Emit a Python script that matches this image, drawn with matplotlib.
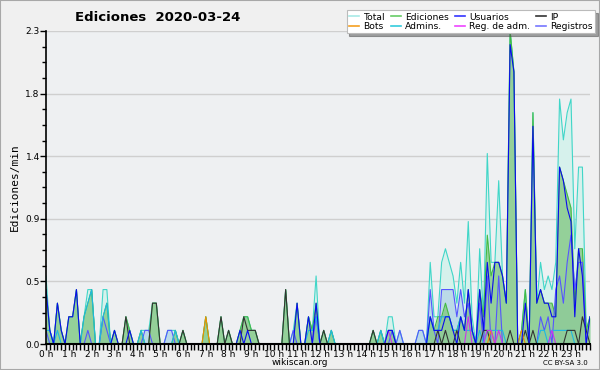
import numpy as np
import matplotlib
matplotlib.use('Agg')
import matplotlib.pyplot as plt
from matplotlib.lines import Line2D
from matplotlib.patches import Rectangle

# edits per 10-minute bin (value / 10 = edits per minute), 144 bins for the day
total = [5,1,0,3,1,0, 2,2,4,0,2,4, 4,0,0,4,4,0, 1,0,0,2,1,0,
         0,1,1,1,3,3, 0,0,1,1,1,0, 1,0,0,0,0,0, 2,0,0,0,2,0,
         1,0,0,1,2,2, 1,1,0,0,0,0, 0,0,0,4,0,1, 3,0,0,2,1,5,
         0,1,0,1,0,0, 0,0,0,0,0,0, 0,0,1,0,1,0, 2,2,0,1,0,0,
         0,0,1,1,0,6, 2,2,6,7,6,5, 3,6,3,9,2,0, 7,2,14,6,6,12,
         5,3,23,20,0,1, 4,0,17,3,6,4, 5,4,6,18,15,17, 18,7,13,13,1,2]
ediciones = [4,1,0,3,1,0, 2,2,4,0,2,3, 4,0,0,2,3,0, 1,0,0,2,1,0,
             0,1,0,0,3,3, 0,0,0,0,1,0, 1,0,0,0,0,0, 2,0,0,0,2,0,
             1,0,0,1,2,2, 1,1,0,0,0,0, 0,0,0,4,0,0, 3,0,0,2,1,3,
             0,1,0,1,0,0, 0,0,0,0,0,0, 0,0,1,0,1,0, 1,1,0,0,0,0,
             0,0,0,0,0,2, 1,2,2,3,2,1, 1,2,1,4,1,0, 4,2,8,5,6,6,
             5,3,23,20,0,1, 4,0,17,3,4,3, 3,3,2,13,12,11, 10,3,7,7,1,2]
usuarios = [4,1,0,3,1,0, 2,2,4,0,0,0, 0,0,0,0,0,0, 1,0,0,0,1,0,
            0,0,0,0,0,0, 0,0,0,0,0,0, 0,0,0,0,0,0, 0,0,0,0,0,0,
            0,0,0,1,0,1, 0,0,0,0,0,0, 0,0,0,0,0,0, 3,0,0,2,0,3,
            0,0,0,0,0,0, 0,0,0,0,0,0, 0,0,0,0,0,0, 1,1,0,0,0,0,
            0,0,0,0,0,2, 1,1,1,2,2,1, 0,2,1,4,1,0, 4,1,6,3,6,6,
            5,3,22,20,0,0, 3,0,16,3,4,3, 3,2,2,13,12,10, 9,2,7,5,0,2]
ip = [0,0,0,0,0,0, 0,0,0,0,0,0, 0,0,0,0,0,0, 0,0,0,2,0,0,
      0,0,0,0,3,3, 0,0,0,0,0,0, 1,0,0,0,0,0, 0,0,0,0,2,0,
      1,0,0,0,2,1, 1,1,0,0,0,0, 0,0,0,4,0,0, 0,0,0,0,0,0,
      0,1,0,0,0,0, 0,0,0,0,0,0, 0,0,1,0,0,0, 0,0,0,0,0,0,
      0,0,0,0,0,0, 0,1,0,1,0,0, 1,0,0,0,0,0, 0,1,1,0,0,0,
      0,0,1,0,0,0, 1,0,1,0,0,0, 0,0,0,0,0,1, 1,1,0,2,1,0]
bots = [0,0,0,0,0,0, 0,0,0,0,0,0, 0,0,0,0,0,0, 0,0,0,0,0,0,
        0,0,0,0,0,0, 0,0,0,0,0,0, 0,0,0,0,0,0, 2,0,0,0,0,0,
        0,0,0,0,0,0, 0,0,0,0,0,0, 0,0,0,0,0,0, 0,0,0,0,0,0,
        0,0,0,0,0,0, 0,0,0,0,0,0, 0,0,0,0,0,0, 0,0,0,0,0,0,
        0,0,0,0,0,0, 0,0,0,0,0,0, 0,0,0,0,0,0, 0,0,0,1,0,0,
        0,0,0,0,0,1, 0,0,0,0,0,0, 0,0,0,0,0,0, 0,0,0,0,0,0]
admins = [1,1,0,1,0,0, 0,0,0,0,2,3, 4,0,0,2,3,0, 0,0,0,0,0,0,
          0,1,0,0,0,0, 0,0,0,0,1,0, 0,0,0,0,0,0, 0,0,0,0,0,0,
          0,0,0,0,0,0, 0,0,0,0,0,0, 0,0,0,0,0,0, 0,0,0,1,1,2,
          0,0,0,1,0,0, 0,0,0,0,0,0, 0,0,0,0,1,0, 0,0,0,0,0,0,
          0,0,0,0,0,2, 1,1,2,2,2,1, 1,2,1,1,1,0, 1,0,1,1,1,1,
          1,0,0,0,0,0, 0,0,0,0,1,1, 0,1,1,1,1,1, 1,0,0,0,0,0]
reg_adm = [0,0,0,0,0,0, 0,0,0,0,0,0, 0,0,0,0,0,0, 0,0,0,0,0,0,
           0,0,0,0,0,0, 0,0,0,0,0,0, 0,0,0,0,0,0, 0,0,0,0,0,0,
           0,0,0,0,0,0, 0,0,0,0,0,0, 0,0,0,0,0,0, 0,0,0,0,0,0,
           0,0,0,0,0,0, 0,0,0,0,0,0, 0,0,0,0,0,0, 1,0,0,0,0,0,
           0,0,0,0,0,0, 0,0,0,0,0,0, 0,0,0,2,0,0, 0,0,1,1,0,1,
           0,0,0,0,0,0, 0,0,0,0,0,0, 0,1,0,0,0,0, 0,0,0,0,0,0]
registros = [1,0,0,0,0,0, 0,0,0,0,0,1, 0,0,0,2,1,0, 0,0,0,0,0,0,
             0,0,1,1,0,0, 0,0,1,1,0,0, 0,0,0,0,0,0, 0,0,0,0,0,0,
             0,0,0,0,0,0, 0,0,0,0,0,0, 0,0,0,0,0,1, 0,0,0,0,0,2,
             0,0,0,0,0,0, 0,0,0,0,0,0, 0,0,0,0,0,0, 0,1,0,1,0,0,
             0,0,1,1,0,4, 1,0,4,4,4,4, 2,4,2,3,1,0, 3,0,5,0,0,5,
             0,0,0,0,0,0, 0,0,0,0,2,1, 2,0,4,5,3,6, 8,4,6,6,0,0]

hour_labels = ['%d h' % h for h in range(24)]

x = np.arange(len(total)) / 6.0
def per_min(v):
    return np.array(v) / 10.0

fig = plt.figure(figsize=(6, 3.7), dpi=100, facecolor='#f0f0f0')
fig.patches.append(Rectangle((0, 0), 1, 1, transform=fig.transFigure, fill=False,
                             edgecolor='#a8a8a8', linewidth=1.5))
ax = fig.add_axes([46/600, 26/370, 544/600, 313/370])
ax.set_facecolor('#eef0f2')

# fills
ax.fill_between(x, per_min(total), color='#d6f1ec', lw=0)
ax.fill_between(x, per_min(registros), color='#a9cbe6', alpha=0.6, lw=0)
ax.fill_between(x, per_min(ediciones), color='#84c884', alpha=0.8, lw=0)

# lines
lw = 0.8
ax.plot(x, per_min(total), color='#40d6c8', lw=lw)
ax.plot(x, per_min(ediciones), color='#44bb44', lw=lw)
ax.plot(x, per_min(registros), color='#5555ff', lw=lw)
ax.plot(x, per_min(admins), color='#1fb8e0', lw=lw)
ax.plot(x, per_min(ip), color='#333333', lw=lw)
ax.plot(x, per_min(bots), color='#f09000', lw=lw)
ax.plot(x, per_min(reg_adm), color='#cc33ee', lw=lw)
ax.plot(x, per_min(usuarios), color='#0a0aee', lw=lw)

ax.set_xlim(0, x[-1])
ax.set_ylim(0, 2.3)
ax.set_xticks(np.arange(24))
ax.set_xticklabels(hour_labels)
ax.set_xticks(np.arange(0, x[-1] + 0.01, 1/6.0), minor=True)
yt = np.linspace(0, 2.3, 6)
ax.set_yticks(yt)
ax.set_yticklabels(['%.1f' % v for v in yt])
ax.set_yticks(np.linspace(0, 2.3, 21), minor=True)
ax.tick_params(axis='both', which='both', direction='out', labelsize=6.5,
               colors='black', pad=0.5)
ax.tick_params(axis='x', which='major', length=4, width=1)
ax.tick_params(axis='x', which='minor', length=4, width=1)
ax.tick_params(axis='y', which='major', length=4, width=1)
ax.tick_params(axis='y', which='minor', length=3, width=1)
ax.yaxis.grid(True, color='#cfcfcf', lw=1)
ax.set_axisbelow(True)
for s in ['top', 'right']:
    ax.spines[s].set_visible(False)
ax.spines['bottom'].set_linewidth(1.5)
ax.spines['left'].set_linewidth(1.2)

ax.set_ylabel('Ediciones/min', family='DejaVu Sans Mono', fontsize=8, labelpad=4)
fig.text(0.263, 0.952, 'Ediciones  2020-03-24', ha='center', va='center',
         fontsize=9.5, fontweight='bold')
fig.text(0.5, 0.02, 'wikiscan.org', ha='center', va='center', fontsize=6.5)
fig.text(0.942, 0.02, 'CC BY-SA 3.0', ha='center', va='center', fontsize=5)

handles = [
    Line2D([], [], color='#a8eae6', lw=1.2),
    Line2D([], [], color='#f5a020', lw=1.2),
    Line2D([], [], color='#66cc66', lw=1.2),
    Line2D([], [], color='#33ccdd', lw=1.2),
    Line2D([], [], color='#3333ff', lw=1.2),
    Line2D([], [], color='#ee44ff', lw=1.2),
    Line2D([], [], color='#333333', lw=1.2),
    Line2D([], [], color='#7777ff', lw=1.2),
]
labels = ['Total', 'Bots', 'Ediciones', 'Admins.', 'Usuarios', 'Reg. de adm.',
          'IP', 'Registros']
leg = fig.legend(handles, labels, loc='upper right', bbox_to_anchor=(0.992, 0.972),
                 ncol=4, fontsize=6.6, frameon=True, fancybox=False, shadow=True,
                 handlelength=1.1, handletextpad=0.5, columnspacing=0.6,
                 labelspacing=0.05, borderpad=0.25, borderaxespad=0)
leg.get_frame().set_edgecolor('#bbbbbb')
leg.get_frame().set_linewidth(0.8)

fig.savefig('out.png', dpi=100, facecolor=fig.get_facecolor())
